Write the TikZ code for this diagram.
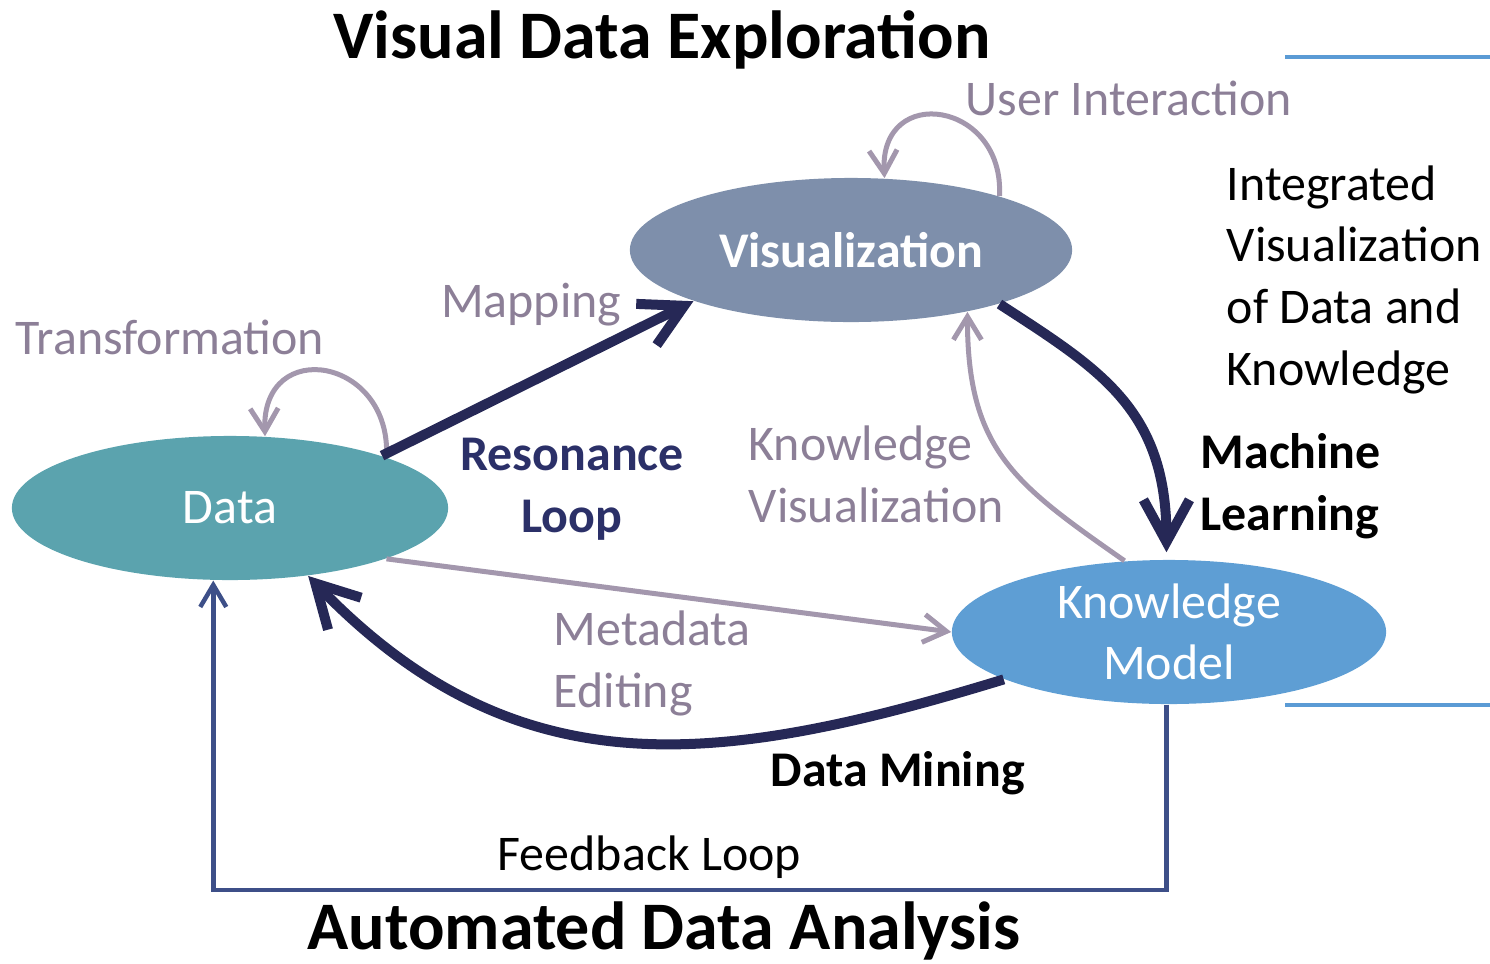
\documentclass[tikz,border=0pt]{standalone}
\usepackage{fontspec}
\setmainfont{Carlito}
\usetikzlibrary{shapes.geometric, arrows.meta, calc, positioning}

\definecolor{datacol}{HTML}{5BA3AE}
\definecolor{viscol}{HTML}{7E8FAB}
\definecolor{kmcol}{HTML}{5E9ED4}
\definecolor{navy}{HTML}{262856}
\definecolor{lightcol}{HTML}{A397AD}
\definecolor{labelcol}{HTML}{8C7F97}
\definecolor{loopcol}{HTML}{2B3068}
\definecolor{fbcol}{HTML}{3D4F88}
\definecolor{rulecol}{HTML}{5B9BD5}

\begin{document}
\begin{tikzpicture}[x=0.01cm, y=0.01cm, font=\fontsize{14.2}{17.5}\selectfont,
    blob/.style={ellipse, inner sep=0pt, minimum width=4.36cm, minimum height=1.44cm, text=white},
    lbl/.style={inner sep=0pt, align=left},
    heading/.style={inner sep=0pt, font=\fontsize{19.35}{23}\selectfont\bfseries},
    heavy/.style={draw=navy, line width=1mm, -{Straight Barb[length=4.2mm, width=4.6mm]}},
    light/.style={draw=lightcol, line width=0.5mm, -{Straight Barb[length=2.3mm, width=2.8mm]}},
    feedback/.style={draw=fbcol, line width=0.45mm, -{Straight Barb[length=2.2mm, width=2.6mm]}}]
    \useasboundingbox (0,0) rectangle (1490,-963);

    \node[blob, fill=datacol] (data) at (230,-508) {Data};
    \node[blob, fill=viscol, minimum width=4.42cm, font=\fontsize{14.2}{17.5}\selectfont\bfseries] (vis) at (851,-250) {Visualization};
    \node[blob, fill=kmcol, minimum width=4.34cm, align=center] (km) at (1169,-632) {Knowledge\\Model};

    \node[heading, anchor=base] (ttop) at (662,-58) {Visual Data Exploration};
    \node[heading, anchor=base] (tbot) at (664,-949) {Automated Data Analysis};

    \node[lbl, text=labelcol, anchor=base west] (user) at (965,-115) {User Interaction};
    \node[lbl, text=labelcol, anchor=base west] (trans) at (15,-354) {Transformation};
    \node[lbl, text=labelcol, anchor=base east] (map) at (622,-317) {Mapping};
    \node[lbl, text=labelcol, anchor=base west] (kvis) at (748,-522) {Knowledge\\Visualization};
    \node[lbl, text=labelcol, anchor=base west] (meta) at (553,-707) {Metadata\\Editing};
    \node[lbl, text=loopcol, align=center, anchor=base, font=\fontsize{14.2}{17.5}\selectfont\bfseries] (reso) at (572,-532) {Resonance\\Loop};
    \node[lbl, anchor=base west] (integ) at (1226,-385) {Integrated\\Visualization\\of Data and\\Knowledge};
    \node[lbl, anchor=base west, font=\fontsize{14.2}{17.5}\selectfont\bfseries] (ml) at (1200,-530) {Machine\\Learning};
    \node[lbl, anchor=base west, font=\fontsize{14.2}{17.5}\selectfont\bfseries] (dm) at (770,-786) {Data Mining};
    \node[lbl, anchor=base west] (fbl) at (497,-870) {Feedback Loop};

    \draw[light] (data.18) .. controls +(5,100) and +(-3,100) .. (data.64);
    \draw[light] (vis.20) .. controls +(5,95) and +(-5,95) .. (vis.65);
    \draw[heavy] (data.19) -- (vis.198);
    \draw[heavy, shorten >=2pt] (vis.340) .. controls +(-33:120) and +(0,150) .. (km.92);
    \draw[heavy] (km.196) .. controls +(197:300) and +(314:300) .. (data.319);
    \draw[light] (data.342) -- (km.180);
    \draw[light] (km.122) .. controls +(145:133) and +(0,-139) .. (vis.332);

    \coordinate (fb) at (0,-890);
    \draw[feedback] (km.268) -- (km.268 |- fb) -- (data.257 |- fb) -- (data.257);

    \draw[rulecol, line width=0.33mm] (1285,-57) -- (1490,-57);
    \draw[rulecol, line width=0.33mm] (1285,-705) -- (1490,-705);
\end{tikzpicture}
\end{document}
